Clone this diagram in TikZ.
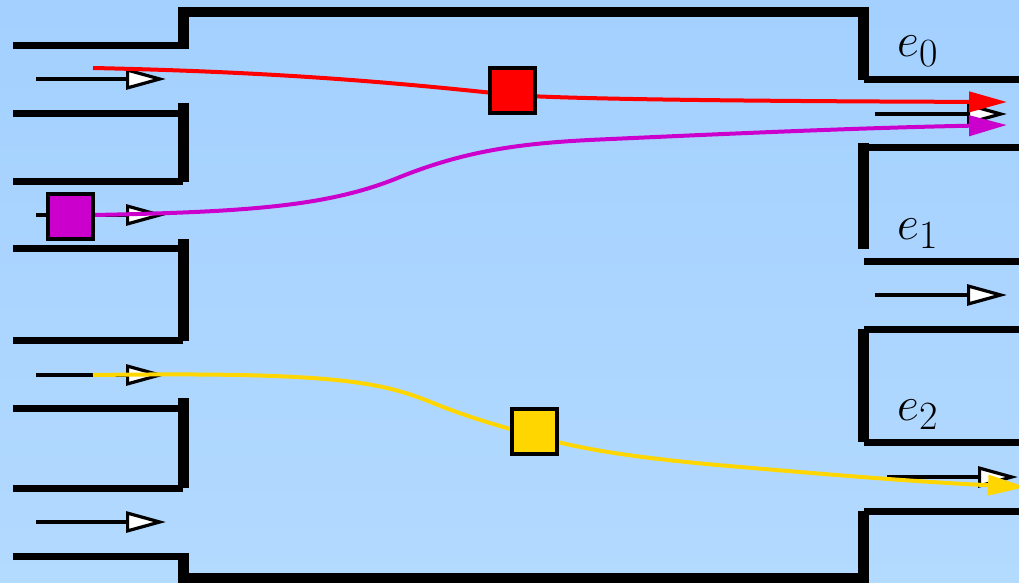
\documentclass[tikz,border=0pt]{standalone}
\usetikzlibrary{arrows.meta}
\definecolor{bgtop}{RGB}{163,208,255}
\definecolor{bgbot}{RGB}{179,218,255}
\definecolor{pathred}{RGB}{255,0,0}
\definecolor{pathmag}{RGB}{204,0,204}
\definecolor{pathyel}{RGB}{255,214,0}
\newcommand{\outletname}[1]{\scalebox{1.93}{\Huge$e_{#1}$}}
\begin{document}
\begin{tikzpicture}[x=1pt,y=-1pt,
  wallh/.style={line width=7pt},
  wallv/.style={line width=10.5pt},
  rim/.style={line width=10pt},
  flow/.style={line width=3.8pt,-{Triangle[length=40pt,width=21pt,fill=white,line width=3.2pt]}},
  track/.style={line width=4pt,draw=#1,-{Triangle[length=38pt,width=20pt,fill=#1]}},
  packet/.style={draw=black,line width=4pt,fill=#1,minimum size=45pt,inner sep=0pt},
  chanlabel/.style={inner sep=0pt,anchor=base west}]
\useasboundingbox (0,0) rectangle (1019,583);
\clip (0,0) rectangle (1019,583);
% background
\fill[top color=bgtop,bottom color=bgbot] (0,0) rectangle (1019,583);

% outer rim of the chamber
\draw[rim] (178,12) -- (869,12);
\draw[rim] (178,578) -- (869,578);
\draw[wallv] (183.5,7) -- (183.5,49);
\draw[wallh] (13,45.5) -- (183,45.5);
\draw[wallv] (863.5,7) -- (863.5,80);
\draw[wallh] (864,79.5) -- (1019,79.5);
\draw[wallh] (13,556.5) -- (183,556.5);
\draw[wallv] (183.5,553) -- (183.5,583);
\draw[wallv] (863.5,511) -- (863.5,583);
\draw[wallh] (864,511) -- (1019,511);

% left inlet blocks
\foreach \ya/\yb/\vt/\vb in {114/181.5/103/182, 248/340.5/239/341, 408.5/488/398/488}{
  \draw[wallh] (13,\ya) -- (183,\ya);
  \draw[wallh] (13,\yb) -- (183,\yb);
  \draw[wallv] (183.5,\vt) -- (183.5,\vb);
}

% right outlet blocks
\draw[wallh] (864,147.5) -- (1019,147.5);
\draw[wallv] (863.5,143) -- (863.5,249);
\draw[wallh] (864,261) -- (1019,261);
\draw[wallh] (864,329.5) -- (1019,329.5);
\draw[wallv] (863.5,329) -- (863.5,442);
\draw[wallh] (864,442) -- (1019,442);

% inflow arrows
\foreach \y [count=\i] in {79,215,375,522}{
  \coordinate (in\i s) at (36,\y);
  \coordinate (in\i e) at (166,\y);
  \draw[flow] (in\i s) -- (in\i e);
}
% outflow arrows
\coordinate (out1s) at (875,114);  \coordinate (out1e) at (1007,114);
\coordinate (out2s) at (875,295);  \coordinate (out2e) at (1007,295);
\coordinate (out3s) at (887,477);  \coordinate (out3e) at (1018,477);
\draw[flow] (out1s) -- (out1e);
\draw[flow] (out2s) -- (out2e);
\draw[flow] (out3s) -- (out3e);

% particles
\node[packet=pathred] (rsq) at (512,91) {};
\node[packet=pathmag] (msq) at (70,216) {};
\node[packet=pathyel] (ysq) at (534.5,431) {};

% particle tracks
\coordinate (r0) at (93,68);
\coordinate (rtip) at (1007,102);
\coordinate (mtip) at (1007,125);
\coordinate (y0) at (93,375);
\coordinate (ytip) at (1026,487);

\draw[track=pathred] (r0) .. controls (280,72) and (400,83) .. ([yshift=-4pt]rsq.center)
  .. controls (560,98.5) and (700,101) .. (rtip);
\draw[track=pathmag] (msq.center) -- (93,215) .. controls (250,212) and (330,206) .. (400,177)
  .. controls (465,151) and (520,143) .. (600,139.5)
  .. controls (700,135) and (850,128) .. (mtip);
\draw[track=pathyel] (y0) .. controls (330,372) and (380,381) .. (433,403)
  .. controls (470,418) and (500,426) .. ([yshift=-5pt]ysq.center)
  .. controls (580,449) and (630,457) .. (717,465)
  .. controls (800,472) and (900,481) .. (ytip);

% particles drawn over their tracks
\node[packet=pathred] at (rsq) {};
\node[packet=pathmag] at (msq) {};
\node[packet=pathyel] at (ysq) {};

% outlet labels
\node[chanlabel] (e0) at (897,57) {\outletname{0}};
\node[chanlabel] (e1) at (897,239) {\outletname{1}};
\node[chanlabel] (e2) at (897,420) {\outletname{2}};
\end{tikzpicture}
\end{document}
